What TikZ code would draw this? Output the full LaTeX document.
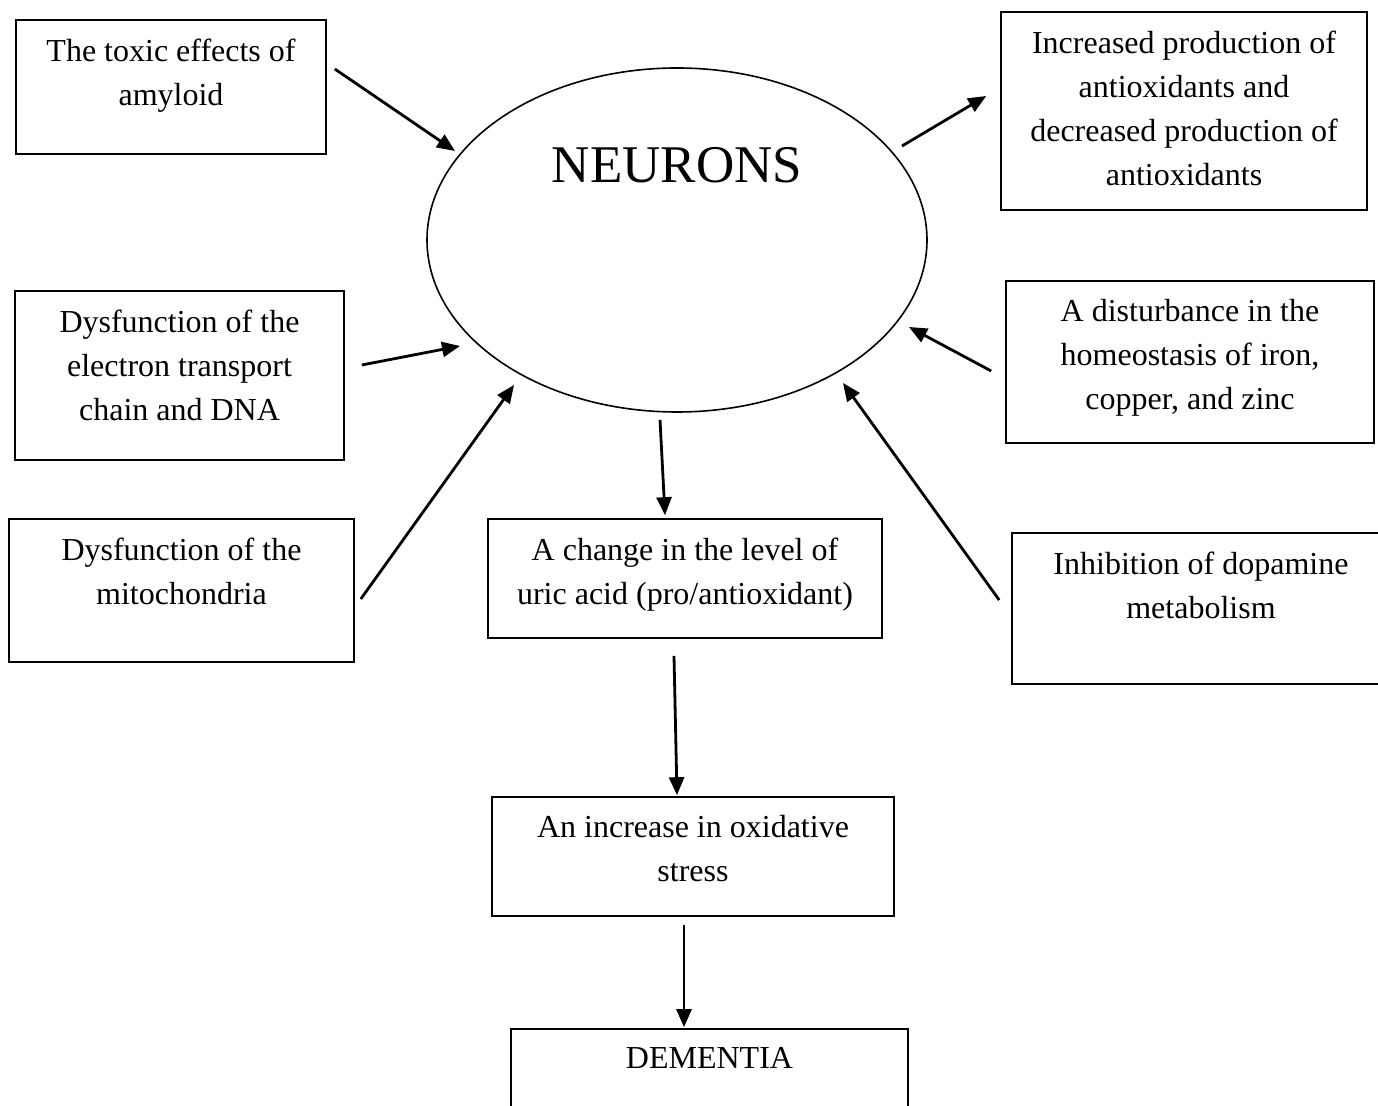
\documentclass[tikz,border=0pt]{standalone}
\usepackage{fontspec}
\setmainfont{Liberation Serif}
\usepackage{tikz}
\usetikzlibrary{arrows.meta,shapes.geometric}

\begin{document}
\begin{tikzpicture}[x=0.5pt,y=-0.5pt,>={Triangle[length=9pt,width=7.5pt]},
  box/.style={rectangle,draw,line width=0.8pt,inner sep=0pt},
  box text/.style={anchor=north,align=center,inner sep=0pt,font=\fontsize{16pt}{22pt}\selectfont},
  cell/.style={ellipse,draw,line width=0.8pt,inner sep=0pt,minimum width=250pt,minimum height=172pt}]

  \useasboundingbox (0,0) rectangle (1378,1106);

  \node[cell] (neurons) at (677,240) {};
  \node[font=\fontsize{26.5pt}{30pt}\selectfont,inner sep=0pt] (neuronstext) at (677,165) {NEURONS};

  \node[box,minimum width=155pt,minimum height=67pt] (amyloid) at (171,87) {};
  \node[box,minimum width=183pt,minimum height=99pt] (antiox) at (1184,111) {};
  \node[box,minimum width=164.5pt,minimum height=84.5pt] (etc) at (179.5,375.5) {};
  \node[box,minimum width=184pt,minimum height=81pt] (metals) at (1190,362) {};
  \node[box,minimum width=172.5pt,minimum height=71.5pt] (mito) at (181.5,590.5) {};
  \node[box,minimum width=197pt,minimum height=59.5pt] (uric) at (685,578.5) {};
  \node[box,minimum width=189pt,minimum height=75.5pt] (dopamine) at (1201,608.5) {};
  \node[box,minimum width=201pt,minimum height=59.5pt] (stress) at (693,856.5) {};
  \node[box,minimum width=198.5pt,minimum height=55.5pt] (dementia) at (709.5,1084.5) {};

  %\node[box text] at (neurons.center) {NEURONS};
  \node[box text] (amyloidtext) at ([yshift=-9.5pt]amyloid.north) {The toxic effects of\\amyloid};
  \node[box text] (antioxtext) at ([yshift=-9.5pt]antiox.north) {Increased production of\\antioxidants and\\decreased production of\\antioxidants};
  \node[box text] (etctext) at ([yshift=-9.5pt]etc.north) {Dysfunction of the\\electron transport\\chain and DNA};
  \node[box text] (metalstext) at ([yshift=-9.5pt]metals.north) {A disturbance in the\\homeostasis of iron,\\copper, and zinc};
  \node[box text] (mitotext) at ([yshift=-9.5pt]mito.north) {Dysfunction of the\\mitochondria};
  \node[box text] (urictext) at ([yshift=-9.5pt]uric.north) {A change in the level of\\uric acid (pro/antioxidant)};
  \node[box text] (dopaminetext) at ([yshift=-9.5pt]dopamine.north) {Inhibition of dopamine\\metabolism};
  \node[box text] (stresstext) at ([yshift=-9.5pt]stress.north) {An increase in oxidative\\stress};
  \node[box text] (dementiatext) at ([yshift=-9.5pt]dementia.north) {DEMENTIA};

  \path[->,line width=1.4pt]
        ([shift={(8,-18)}]amyloid.east) edge ([shift={(-222,-89)}]neurons.center)
        ([shift={(225,-94)}]neurons.center) edge ([shift={(-14,-15)}]antiox.west)
        ([shift={(17,-10.5)}]etc.east) edge ([shift={(-217,106)}]neurons.center)
        ([shift={(-14,9)}]metals.west) edge ([shift={(232,87)}]neurons.center)
        ([shift={(6,8.5)}]mito.east) edge ([shift={(-163,145)}]neurons.center)
        ([shift={(-12,-8.5)}]dopamine.west) edge ([shift={(166,143)}]neurons.center)
        ([shift={(-17,7)}]neurons.south) edge ([shift={(-20,-3)}]uric.north)
        ([shift={(-11,17)}]uric.south) edge ([shift={(-16,-1)}]stress.north)
        ([shift={(-9,8)}]stress.south) edge ([shift={(-25.5,-1)}]dementia.north);
\end{tikzpicture}
\end{document}
